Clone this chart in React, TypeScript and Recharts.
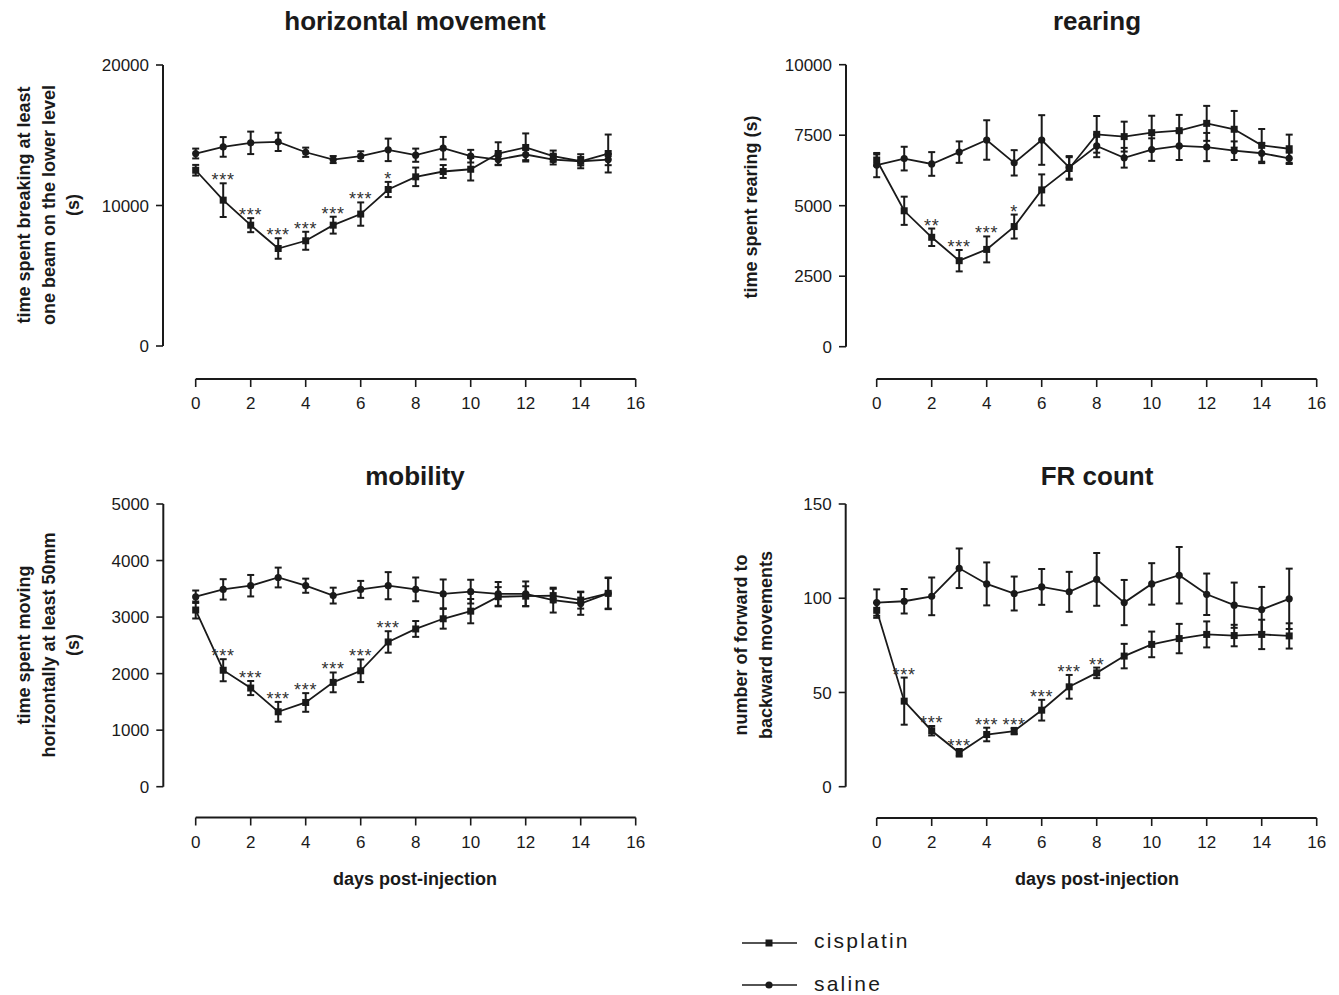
import React from 'react';
import { LineChart, Line, XAxis, YAxis, ErrorBar, ReferenceLine, LabelList } from 'recharts';

const days = [0, 1, 2, 3, 4, 5, 6, 7, 8, 9, 10, 11, 12, 13, 14, 15];
const xTicks = [0, 2, 4, 6, 8, 10, 12, 14, 16];

// horizontal movement
const hmCisplatin = [12510, 10380, 8600, 6940, 7490, 8600, 9390, 11140, 12040, 12420, 12580, 13700, 14130, 13510, 13150, 13700];
const hmCisplatinErr = [380, 1200, 500, 730, 640, 600, 830, 540, 660, 460, 800, 800, 1000, 400, 500, 1350];
const hmSaline = [13700, 14170, 14460, 14530, 13790, 13270, 13510, 13960, 13580, 14080, 13510, 13270, 13630, 13270, 13150, 13270];
const hmSalineErr = [350, 700, 800, 650, 330, 250, 350, 800, 470, 800, 450, 400, 400, 350, 300, 400];
const hmStars = ['', '***', '***', '***', '***', '***', '***', '*', '', '', '', '', '', '', '', ''];
const hmTicks = [0, 10000, 20000];

// rearing
const reCisplatin = [6620, 4820, 3880, 3050, 3450, 4260, 5560, 6320, 7530, 7450, 7590, 7660, 7920, 7710, 7140, 7020];
const reCisplatinErr = [200, 500, 310, 380, 460, 425, 550, 400, 650, 530, 600, 560, 620, 650, 580, 500];
const reSaline = [6440, 6670, 6480, 6900, 7330, 6520, 7330, 6360, 7120, 6700, 6990, 7120, 7080, 6950, 6860, 6680];
const reSalineErr = [430, 420, 420, 380, 700, 450, 880, 400, 400, 350, 400, 500, 500, 330, 350, 200];
const reStars = ['', '', '**', '***', '***', '*', '', '', '', '', '', '', '', '', '', ''];
const reTicks = [0, 2500, 5000, 7500, 10000];

// mobility
const moCisplatin = [3125, 2060, 1745, 1325, 1490, 1845, 2050, 2560, 2790, 2970, 3105, 3360, 3370, 3380, 3300, 3420];
const moCisplatinErr = [150, 195, 125, 175, 165, 175, 200, 190, 140, 175, 215, 170, 175, 120, 150, 280];
const moSaline = [3360, 3490, 3555, 3700, 3555, 3380, 3490, 3555, 3490, 3410, 3450, 3410, 3410, 3300, 3240, 3420];
const moSalineErr = [110, 180, 190, 175, 125, 140, 150, 240, 210, 255, 210, 210, 220, 220, 200, 270];
const moStars = ['', '***', '***', '***', '***', '***', '***', '***', '', '', '', '', '', '', '', ''];
const moTicks = [0, 1000, 2000, 3000, 4000, 5000];

// FR count
const frCisplatin = [93.6, 45.4, 29.7, 18, 27.7, 29.5, 40.6, 53, 60.4, 69.3, 75.5, 78.6, 80.8, 80.2, 80.8, 80];
const frCisplatinErr = [4, 12.5, 2.5, 2, 3.6, 1.7, 5.5, 6.3, 2.8, 6.5, 6.8, 7.8, 6.9, 5.7, 7.8, 6.7];
const frSaline = [97.7, 98.4, 101, 115.9, 107.6, 102.5, 106, 103.4, 110, 97.7, 107.6, 112.2, 102.1, 96.3, 94, 99.7];
const frSalineErr = [7, 6.5, 10, 10.5, 11.4, 9, 9.5, 10.6, 14, 12, 11, 15, 11, 12, 12, 16];
const frStars = ['', '***', '***', '***', '***', '***', '***', '***', '**', '', '', '', '', '', '', ''];
const frTicks = [0, 50, 100, 150];

const FONT = '"Liberation Sans", Arial, Helvetica, sans-serif';
const INK = '#1a1a1a';
const W = 1339;
const H = 995;
const Y_AXIS_W = 70;
const X_AXIS_H = 40;
const TICK_FONT = 17;
const LABEL_FONT = 18;
const TITLE_FONT = 26;

type PanelGeom = { left: number; x0: number; right: number; top: number; y0: number; bottom: number };

const buildRows = (cis: number[], cisErr: number[], sal: number[], salErr: number[], stars: string[]) =>
  days.map((d, i) => ({
    day: d,
    cis: cis[i],
    cisErr: cisErr[i],
    sal: sal[i],
    salErr: salErr[i],
    star: stars[i],
    starPos: stars[i] ? cis[i] + cisErr[i] : null,
  }));

const SquareDot = (props: any) => {
  const { cx, cy, index } = props;
  if (cx == null || cy == null) return <g key={`sq-${index}`} />;
  return <rect key={`sq-${index}`} x={cx - 3.5} y={cy - 3.5} width={7} height={7} fill={INK} />;
};

const StarLabel = (props: any) => {
  const { x, y, value } = props;
  if (!value) return null;
  return (
    <text x={x} y={y + 3} textAnchor="middle" fontSize={18} fill="#333" fontFamily={FONT} letterSpacing={0.8}>
      {value}
    </text>
  );
};

function Panel({ g, yMax, yTicks, rows }: { g: PanelGeom; yMax: number; yTicks: number[]; rows: any[] }) {
  const xMin = (-16 * (g.x0 - g.left)) / (g.right - g.x0);
  const yMin = (-yMax * (g.bottom - g.y0)) / (g.y0 - g.top);
  const margin = {
    left: g.left - Y_AXIS_W,
    right: W - g.right,
    top: g.top,
    bottom: H - g.bottom - X_AXIS_H,
  };
  return (
    <div style={{ position: 'absolute', left: 0, top: 0, width: W, height: H }}>
      <LineChart width={W} height={H} data={rows} margin={margin}>
        <XAxis
          type="number"
          dataKey="day"
          domain={[xMin, 16]}
          allowDataOverflow
          ticks={xTicks}
          axisLine={false}
          tickLine={{ stroke: INK, strokeWidth: 1.6 }}
          tickSize={8}
          tickMargin={10}
          height={X_AXIS_H}
          tick={{ fontSize: TICK_FONT, fill: INK, fontFamily: FONT }}
        />
        <YAxis
          type="number"
          domain={[yMin, yMax]}
          allowDataOverflow
          ticks={yTicks}
          axisLine={false}
          tickLine={{ stroke: INK, strokeWidth: 1.6 }}
          tickSize={7}
          tickMargin={7}
          width={Y_AXIS_W}
          tick={{ fontSize: TICK_FONT, fill: INK, fontFamily: FONT }}
        />
        <ReferenceLine
          segment={[{ x: xMin, y: 0 }, { x: xMin, y: yMax }]}
          stroke={INK}
          strokeWidth={2}
          ifOverflow="visible"
        />
        <ReferenceLine
          segment={[{ x: 0, y: yMin }, { x: 16, y: yMin }]}
          stroke={INK}
          strokeWidth={2}
          ifOverflow="visible"
        />
        <Line
          dataKey="sal"
          stroke={INK}
          strokeWidth={1.8}
          dot={{ r: 3.6, fill: INK, stroke: INK, strokeWidth: 0 }}
          activeDot={false}
          isAnimationActive={false}
        >
          <ErrorBar dataKey="salErr" width={3.5} strokeWidth={2} stroke={INK} direction="y" />
        </Line>
        <Line
          dataKey="cis"
          stroke={INK}
          strokeWidth={1.8}
          dot={SquareDot}
          activeDot={false}
          isAnimationActive={false}
        >
          <ErrorBar dataKey="cisErr" width={3.5} strokeWidth={2} stroke={INK} direction="y" />
        </Line>
        <Line
          dataKey="starPos"
          stroke="none"
          dot={false}
          activeDot={false}
          isAnimationActive={false}
          connectNulls={false}
        >
          <LabelList dataKey="star" content={StarLabel} />
        </Line>
      </LineChart>
    </div>
  );
}

const textStyle = { fontFamily: FONT, fill: INK } as const;

export default function App() {
  const p1: PanelGeom = { left: 163, x0: 195.7, right: 635.7, top: 65, y0: 346, bottom: 379 };
  const p2: PanelGeom = { left: 846, x0: 876.7, right: 1316.7, top: 64.7, y0: 346.7, bottom: 379 };
  const p3: PanelGeom = { left: 163.3, x0: 195.7, right: 635.7, top: 504, y0: 786.7, bottom: 817.5 };
  const p4: PanelGeom = { left: 845.7, x0: 876.7, right: 1316.7, top: 504, y0: 786.7, bottom: 818 };

  return (
    <div style={{ position: 'absolute', left: 0, top: 0, width: W, height: H, background: '#fff' }}>
      <Panel g={p1} yMax={20000} yTicks={hmTicks} rows={buildRows(hmCisplatin, hmCisplatinErr, hmSaline, hmSalineErr, hmStars)} />
      <Panel g={p2} yMax={10000} yTicks={reTicks} rows={buildRows(reCisplatin, reCisplatinErr, reSaline, reSalineErr, reStars)} />
      <Panel g={p3} yMax={5000} yTicks={moTicks} rows={buildRows(moCisplatin, moCisplatinErr, moSaline, moSalineErr, moStars)} />
      <Panel g={p4} yMax={150} yTicks={frTicks} rows={buildRows(frCisplatin, frCisplatinErr, frSaline, frSalineErr, frStars)} />
      <svg width={W} height={H} style={{ position: 'absolute', left: 0, top: 0, pointerEvents: 'none' }}>
        {/* titles */}
        <text x={415} y={30} textAnchor="middle" fontSize={TITLE_FONT} fontWeight="bold" style={textStyle}>horizontal movement</text>
        <text x={1097} y={30} textAnchor="middle" fontSize={TITLE_FONT} fontWeight="bold" style={textStyle}>rearing</text>
        <text x={415} y={485} textAnchor="middle" fontSize={TITLE_FONT} fontWeight="bold" style={textStyle}>mobility</text>
        <text x={1097} y={485} textAnchor="middle" fontSize={TITLE_FONT} fontWeight="bold" style={textStyle}>FR count</text>

        {/* y-axis titles */}
        <g transform="translate(0,205) rotate(-90)">
          <text x={0} y={30} textAnchor="middle" fontSize={LABEL_FONT} fontWeight="bold" style={textStyle}>time spent breaking at least</text>
          <text x={0} y={55} textAnchor="middle" fontSize={LABEL_FONT} fontWeight="bold" style={textStyle}>one beam on the lower level</text>
          <text x={0} y={79} textAnchor="middle" fontSize={LABEL_FONT} fontWeight="bold" style={textStyle}>(s)</text>
        </g>
        <g transform="translate(0,207) rotate(-90)">
          <text x={0} y={757} textAnchor="middle" fontSize={LABEL_FONT} fontWeight="bold" style={textStyle}>time spent rearing (s)</text>
        </g>
        <g transform="translate(0,645) rotate(-90)">
          <text x={0} y={30} textAnchor="middle" fontSize={LABEL_FONT} fontWeight="bold" style={textStyle}>time spent moving</text>
          <text x={0} y={55} textAnchor="middle" fontSize={LABEL_FONT} fontWeight="bold" style={textStyle}>horizontally at least 50mm</text>
          <text x={0} y={79} textAnchor="middle" fontSize={LABEL_FONT} fontWeight="bold" style={textStyle}>(s)</text>
        </g>
        <g transform="translate(0,645) rotate(-90)">
          <text x={0} y={747} textAnchor="middle" fontSize={LABEL_FONT} fontWeight="bold" style={textStyle}>number of forward to</text>
          <text x={0} y={772} textAnchor="middle" fontSize={LABEL_FONT} fontWeight="bold" style={textStyle}>backward movements</text>
        </g>

        {/* x-axis titles */}
        <text x={415} y={885} textAnchor="middle" fontSize={LABEL_FONT} fontWeight="bold" style={textStyle}>days post-injection</text>
        <text x={1097} y={885} textAnchor="middle" fontSize={LABEL_FONT} fontWeight="bold" style={textStyle}>days post-injection</text>

        {/* legend */}
        <line x1={742} y1={943} x2={797} y2={943} stroke={INK} strokeWidth={1.5} />
        <rect x={765.5} y={939.5} width={7} height={7} fill={INK} />
        <text x={814} y={948} fontSize={21} letterSpacing={2.2} style={textStyle}>cisplatin</text>
        <line x1={742} y1={985} x2={797} y2={985} stroke={INK} strokeWidth={1.5} />
        <circle cx={769} cy={985} r={3.6} fill={INK} />
        <text x={814} y={991} fontSize={21} letterSpacing={2.2} style={textStyle}>saline</text>
      </svg>
    </div>
  );
}
